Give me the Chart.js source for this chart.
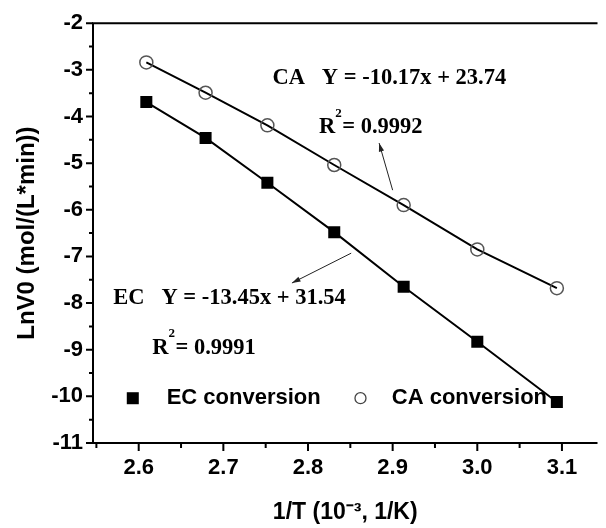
<!DOCTYPE html>
<html>
<head>
<meta charset="utf-8">
<script src="https://cdn.jsdelivr.net/npm/chart.js@4"></script>
<style>
  html, body { margin: 0; padding: 0; background: #fff; }
</style>
</head>
<body>
<canvas id="chart" width="606" height="528"></canvas>
<script>
// data
const invT = [2.609, 2.679, 2.752, 2.831, 2.913, 3.0, 3.094];
const ecConversion = [-3.69, -4.46, -5.42, -6.48, -7.65, -8.83, -10.12];
const caConversion = [-2.84, -3.49, -4.19, -5.04, -5.90, -6.85, -7.68];

const xRange = [2.546, 3.142];
const yRange = [-11, -2];

const sansFamily = '"Liberation Sans", Arial, sans-serif';
const sansBold = 'bold 22px ' + sansFamily;
const serifBold = 'bold 22.5px "Liberation Serif", "Times New Roman", serif';

function pts(ys) {
    return invT.map((x, i) => ({ x: x, y: ys[i] }));
}

// R with a raised 2, then the rest
function drawR2(ctx, px, py, rest) {
    ctx.font = serifBold;
    ctx.fillText('R', px, py);
    const w = ctx.measureText('R').width;
    ctx.font = 'bold 13px "Liberation Serif", "Times New Roman", serif';
    ctx.fillText('2', px + w, py - 14);
    ctx.font = serifBold;
    ctx.fillText(rest, px + w + 7, py);
}

function arrow(ctx, x1, y1, x2, y2) {
    const a = Math.atan2(y2 - y1, x2 - x1);
    ctx.save();
    ctx.strokeStyle = '#222';
    ctx.fillStyle = '#222';
    ctx.lineWidth = 1;
    ctx.beginPath();
    ctx.moveTo(x1, y1);
    ctx.lineTo(x2, y2);
    ctx.stroke();
    ctx.beginPath();
    ctx.moveTo(x2, y2);
    ctx.lineTo(x2 - 9 * Math.cos(a - 0.3), y2 - 9 * Math.sin(a - 0.3));
    ctx.lineTo(x2 - 9 * Math.cos(a + 0.3), y2 - 9 * Math.sin(a + 0.3));
    ctx.closePath();
    ctx.fill();
    ctx.restore();
}

const decorations = {
    id: 'decorations',
    afterDraw(chart) {
        const ctx = chart.ctx;
        const xs = chart.scales.x, ys = chart.scales.y;
        const area = chart.chartArea;
        const X = v => xs.getPixelForValue(v);
        const Y = v => ys.getPixelForValue(v);

        ctx.save();
        // axes frame
        ctx.strokeStyle = '#000';
        ctx.lineWidth = 2;
        ctx.beginPath();
        ctx.moveTo(area.right, area.top);
        ctx.lineTo(area.left, area.top);
        ctx.lineTo(area.left, area.bottom);
        ctx.lineTo(area.right, area.bottom);
        ctx.stroke();

        // ticks, outward
        ctx.beginPath();
        ys.ticks.forEach(t => {
            const major = Number.isInteger(t.value);
            const p = Y(t.value);
            ctx.moveTo(area.left, p);
            ctx.lineTo(area.left - (major ? 7 : 4), p);
        });
        xs.ticks.forEach(t => {
            const major = Math.abs(t.value * 10 - Math.round(t.value * 10)) < 1e-6;
            const p = X(t.value);
            ctx.moveTo(p, area.bottom);
            ctx.lineTo(p, area.bottom + (major ? 8 : 5));
        });
        ctx.stroke();

        // equations
        ctx.fillStyle = '#000';
        ctx.textBaseline = 'middle';
        ctx.textAlign = 'left';
        ctx.font = serifBold;
        ctx.fillText('CA   Y = -10.17x + 23.74', X(2.758), Y(-3.18));
        drawR2(ctx, X(2.813), Y(-4.23), '= 0.9992');
        ctx.font = serifBold;
        ctx.fillText('EC   Y = -13.45x + 31.54', X(2.570), Y(-7.89));
        drawR2(ctx, X(2.616), Y(-8.96), '= 0.9991');

        arrow(ctx, X(2.900), Y(-5.58), X(2.884), Y(-4.57));
        arrow(ctx, X(2.851), Y(-6.93), X(2.781), Y(-7.57));

        // legend inside the plot
        const ly = Y(-10.04);
        ctx.fillRect(X(2.593) - 6, ly - 6, 12, 12);
        ctx.font = sansBold;
        ctx.fillText('EC conversion', X(2.633), ly);
        ctx.strokeStyle = '#444';
        ctx.lineWidth = 1.3;
        ctx.beginPath();
        ctx.arc(X(2.862), ly, 5.5, 0, Math.PI * 2);
        ctx.stroke();
        ctx.fillText('CA conversion', X(2.899), ly);
        ctx.restore();
    }
};

new Chart(document.getElementById('chart'), {
    type: 'scatter',
    data: {
        datasets: [{
            label: 'EC conversion',
            data: pts(ecConversion),
            showLine: true,
            borderColor: '#000',
            borderWidth: 2,
            pointStyle: 'rect',
            pointRadius: 8.5,
            pointBackgroundColor: '#000',
            pointBorderColor: '#000',
            pointBorderWidth: 0
        }, {
            label: 'CA conversion',
            data: pts(caConversion),
            showLine: true,
            borderColor: '#000',
            borderWidth: 2,
            pointStyle: 'circle',
            pointRadius: 6.5,
            pointBackgroundColor: 'rgba(255,255,255,0)',
            pointBorderColor: '#555',
            pointBorderWidth: 1.5
        }]
    },
    options: {
        responsive: false,
        animation: false,
        layout: { padding: { left: 0, top: 23, right: 1, bottom: 0 } },
        plugins: {
            legend: { display: false },
            tooltip: { enabled: false }
        },
        scales: {
            x: {
                type: 'linear',
                min: xRange[0],
                max: xRange[1],
                afterFit: s => { s.height = 85; },
                grid: { display: false, drawTicks: false },
                border: { display: false },
                ticks: {
                    stepSize: 0.05,
                    includeBounds: false,
                    autoSkip: false,
                    maxRotation: 0,
                    padding: 12,
                    color: '#000',
                    font: { family: sansFamily, size: 22, weight: 'bold' },
                    callback: v => Math.abs(v * 10 - Math.round(v * 10)) < 1e-6 ? v.toFixed(1) : ''
                },
                title: {
                    display: true,
                    text: '1/T (10\u207B\u00B3, 1/K)',
                    color: '#000',
                    padding: { top: 0, bottom: 2 },
                    font: { family: sansFamily, size: 23, weight: 'bold' }
                }
            },
            y: {
                min: yRange[0],
                max: yRange[1],
                afterFit: s => { s.width = 93; },
                grid: { display: false, drawTicks: false },
                border: { display: false },
                ticks: {
                    stepSize: 0.5,
                    autoSkip: false,
                    padding: 10,
                    color: '#000',
                    font: { family: sansFamily, size: 22, weight: 'bold' },
                    callback: v => Number.isInteger(v) ? String(v) : ''
                },
                title: {
                    display: true,
                    text: 'LnV0 (mol/(L*min))',
                    color: '#000',
                    padding: { top: 13, bottom: 0 },
                    font: { family: sansFamily, size: 24, weight: 'bold' }
                }
            }
        }
    },
    plugins: [decorations]
});
</script>
</body>
</html>
